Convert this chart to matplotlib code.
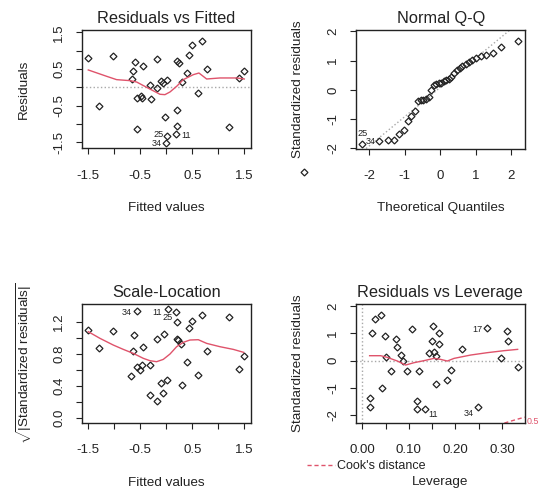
import matplotlib
matplotlib.use('Agg')
import matplotlib.pyplot as plt
from matplotlib.lines import Line2D
import matplotlib.transforms as mtransforms

plt.rcParams['font.family'] = ['Liberation Sans', 'DejaVu Sans']
plt.rcParams['mathtext.fontset'] = 'custom'
plt.rcParams['mathtext.rm'] = 'Liberation Sans'
plt.rcParams['mathtext.it'] = 'Liberation Sans:italic'
plt.rcParams['axes.unicode_minus'] = False

# ---------------- data ----------------
# Residuals vs Fitted
fitted1 = [-1.50, -1.295, -1.02, -0.667, -0.635, -0.609, -0.571, -0.571, -0.487, -0.46,
           -0.44, -0.308, -0.30, -0.186, -0.17, -0.10, -0.064, -0.032, 0.006, 0.019,
           -0.006, 0.186, 0.199, 0.199, 0.212, 0.25, 0.30, 0.404, 0.442, 0.494,
           0.615, 0.68, 0.776, 1.205, 1.39, 1.487]
resid1 = [0.79, -0.51, 0.85, 0.22, 0.445, 0.68, -0.28, -1.136, -0.245, -0.28,
          0.59, 0.063, -0.31, 0.76, -0.018, 0.164, 0.109, -0.80, 0.19, -1.327,
          -1.527, -1.27, -1.055, -0.627, 0.71, 0.655, 0.136, 0.39, 0.873, 1.145,
          -0.164, 1.255, 0.50, -1.09, 0.264, 0.445]
smooth1_x = [-1.5, -1.147, -0.955, -0.699, -0.571, -0.378, -0.122, -0.026, 0.071, 0.199,
             0.327, 0.519, 0.628, 0.776, 1.032, 1.353, 1.5]
smooth1_y = [0.473, 0.30, 0.209, 0.182, 0.145, 0.0, -0.19, -0.2, -0.127, 0.027,
             0.209, 0.345, 0.39, 0.227, 0.255, 0.255, 0.227]
labels1 = ["25", "34", "11"]
labels1_idx = [19, 20, 21]
labels1_off = [(-6.4, 1.4), (-6.4, 0.0), (7.4, -1.2)]

# Normal Q-Q
theo_q = [-2.20, -1.73, -1.48, -1.30, -1.15, -1.02, -0.91, -0.81, -0.72, -0.63,
          -0.55, -0.47, -0.39, -0.32, -0.245, -0.175, -0.105, -0.035, 0.035, 0.105,
          0.175, 0.245, 0.32, 0.39, 0.47, 0.55, 0.63, 0.72, 0.81, 0.91,
          1.02, 1.15, 1.30, 1.48, 1.73, 2.20]
std_q = [-1.84, -1.77, -1.71, -1.71, -1.51, -1.38, -1.07, -0.90, -0.72, -0.38,
         -0.36, -0.35, -0.32, -0.25, 0.0, 0.15, 0.20, 0.23, 0.25, 0.29,
         0.32, 0.36, 0.45, 0.56, 0.68, 0.76, 0.82, 0.89, 0.95, 1.01,
         1.08, 1.15, 1.21, 1.27, 1.46, 1.66]
qq_intercept = 0.08
qq_slope = 1.0
qq_stray_x = [-3.84]
qq_stray_y = [-2.81]
labels2 = ["25", "34"]
labels2_idx = [0, 1]
labels2_off = [(0.0, 7.0), (-6.2, 0.0)]

# Scale-Location
fitted3 = [-1.50, -1.295, -1.02, -0.68, -0.635, -0.615, -0.571, -0.571, -0.506, -0.462,
           -0.449, -0.308, -0.308, -0.18, -0.186, -0.109, -0.064, -0.038, 0.006, 0.032,
           0.186, 0.205, 0.212, 0.22, 0.276, 0.308, 0.404, 0.442, 0.494, 0.615,
           0.68, 0.776, 1.205, 1.39, 1.487]
sqrt_std3 = [1.096, 0.867, 1.083, 0.525, 0.829, 1.033, 1.3375, 0.6375, 0.596, 0.654,
             0.883, 0.654, 0.283, 0.208, 0.9875, 0.429, 0.3125, 1.042, 0.471, 1.358,
             1.32, 1.196, 0.979, 0.97, 0.921, 0.404, 0.696, 1.12, 1.2125, 0.533,
             1.279, 0.829, 1.254, 0.604, 0.775]
smooth3_x = [-1.5, -1.276, -1.019, -0.827, -0.635, -0.442, -0.314, -0.186, -0.058, 0.071,
             0.199, 0.327, 0.455, 0.615, 0.776, 1.032, 1.288, 1.487]
smooth3_y = [1.075, 0.992, 0.908, 0.854, 0.804, 0.742, 0.7125, 0.70, 0.729, 0.796,
             0.8875, 0.942, 0.971, 0.975, 0.929, 0.8875, 0.854, 0.817]
labels3 = ["34", "11", "25"]
labels3_idx = [6, 19, 20]
labels3_off = [(-7.0, -1.2), (-8.0, -2.4), (-5.7, -3.8)]

# Residuals vs Leverage
lev4 = [0.0157, 0.0157, 0.0215, 0.0272, 0.0394, 0.0415, 0.0487, 0.0508, 0.0623, 0.073,
        0.0737, 0.083, 0.088, 0.0966, 0.1074, 0.1167, 0.118, 0.1217, 0.1339, 0.1432,
        0.149, 0.151, 0.1539, 0.1575, 0.159, 0.1646, 0.1653, 0.181, 0.19, 0.2147,
        0.249, 0.268, 0.2985, 0.311, 0.3128, 0.3336]
std4 = [-1.366, -1.695, 1.0, 1.512, 1.67, -1.012, 0.89, 0.146, -0.366, 0.805,
        0.5, 0.22, -0.012, -0.366, 1.159, -1.476, -1.768, -0.366, -1.768, 0.268,
        0.732, 1.28, 0.305, 0.183, -0.866, 1.0, 0.622, -0.707, -0.329, 0.415,
        -1.683, 1.183, 0.11, 1.073, 0.732, -0.232]
smooth4_x = [0.0157, 0.0394, 0.0537, 0.0752, 0.093, 0.111, 0.132, 0.154, 0.168, 0.1825,
             0.197, 0.2326, 0.268, 0.304, 0.3336]
smooth4_y = [0.183, 0.183, 0.122, -0.012, -0.159, -0.073, 0.0, 0.085, 0.049, -0.012,
             0.085, 0.207, 0.293, 0.366, 0.415]
cook_lev = [0.305, 0.32, 0.335, 0.349]
cook_std = [-2.283, -2.205, -2.131, -2.065]
cook_label = "0.5"
cook_label_y = -2.21
labels4 = ["17", "11", "34"]
labels4_idx = [31, 18, 30]
labels4_off = [(-7.2, -1.0), (6.4, -3.6), (-6.9, -4.8)]

# ---------------- style ----------------
TXT = '#222222'
RED = '#DF536B'
GREY = '#A8A8A8'

fig = plt.figure(figsize=(5.5, 4.99), dpi=100)
W, H = 550.0, 499.0


def add_axes(l, t, r, b):
    return fig.add_axes([l / W, (H - b) / H, (r - l) / W, (b - t) / H])


def style(ax, box, title, xlabel, ylabel, xticks, xlabels, yticks, ylabels, xlim, ylim):
    l, t, r, b = box
    wpx, hpx = r - l, b - t
    ax.set_xlim(xlim)
    ax.set_ylim(ylim)
    ax.set_xticks(xticks)
    ax.set_xticklabels(xlabels)
    ax.set_yticks(yticks)
    ax.set_yticklabels(ylabels)
    ax.tick_params(direction='out', length=4.3, width=0.8, color=TXT,
                   labelsize=9.5, labelcolor=TXT)
    ax.tick_params(axis='x', pad=11.5)
    ax.tick_params(axis='y', pad=7.7, labelrotation=90)
    for lbl in ax.get_yticklabels():
        lbl.set_va('center')
    for s in ax.spines.values():
        s.set_linewidth(1.0)
        s.set_color(TXT)
    ax.set_title(title, fontsize=11.8, pad=5, color=TXT)
    ax.set_xlabel(xlabel, fontsize=9.7, color=TXT)
    ax.xaxis.label.set_va('center')
    ax.xaxis.set_label_coords(0.5, -60.0 / hpx)
    ax.set_ylabel(ylabel, fontsize=9.7, color=TXT)
    ax.yaxis.label.set_va('center')
    ax.yaxis.set_label_coords(-58.0 / wpx, 0.5)


MS = 3.5
MEW = 0.9


def points(ax, x, y):
    ax.plot(x, y, ls='none', marker='D', ms=MS, mfc='none', mec=TXT, mew=MEW)


def point_labels(ax, x, y, labels, idx, offs):
    for lab, i, (dx, dy) in zip(labels, idx, offs):
        ax.annotate(lab, xy=(x[i], y[i]), xytext=(dx, dy), textcoords='offset points',
                    ha='center', va='center', fontsize=6.6, color=TXT)


fit_ticks = [-1.5, -1.0, -0.5, 0.0, 0.5, 1.0, 1.5]
fit_labels = ['-1.5', '', '-0.5', '', '0.5', '', '1.5']

# Panel 1
box1 = (82, 30, 251, 148)
ax1 = add_axes(*box1)
ax1.axhline(0, color=GREY, ls=':', lw=1.0)
points(ax1, fitted1, resid1)
ax1.plot(smooth1_x, smooth1_y, color=RED, lw=1.0)
point_labels(ax1, fitted1, resid1, labels1, labels1_idx, labels1_off)
style(ax1, box1, 'Residuals vs Fitted', 'Fitted values', 'Residuals',
      fit_ticks, fit_labels, fit_ticks, ['-1.5', '', '-0.5', '', '0.5', '', '1.5'],
      (-1.621, 1.629), (-1.655, 1.563))

# Panel 2
box2 = (356, 30, 525.5, 148.5)
ax2 = add_axes(*box2)
ax2.axline((0, qq_intercept), slope=qq_slope, color=GREY, ls=':', lw=1.0)
points(ax2, theo_q, std_q)
ax2.plot(qq_stray_x, qq_stray_y, ls='none', marker='D', ms=MS, mfc='none',
         mec=TXT, mew=MEW, clip_on=False)
point_labels(ax2, theo_q, std_q, labels2, labels2_idx, labels2_off)
q_ticks = [-2, -1, 0, 1, 2]
style(ax2, box2, 'Normal Q-Q', 'Theoretical Quantiles', 'Standardized residuals',
      q_ticks, ['-2', '-1', '0', '1', '2'], q_ticks, ['-2', '-1', '0', '1', '2'],
      (-2.375, 2.41), (-2.01, 2.05))

# Panel 3
box3 = (82, 303.5, 251, 422.5)
ax3 = add_axes(*box3)
points(ax3, fitted3, sqrt_std3)
ax3.plot(smooth3_x, smooth3_y, color=RED, lw=1.0)
point_labels(ax3, fitted3, sqrt_std3, labels3, labels3_idx, labels3_off)
s_ticks = [0.0, 0.2, 0.4, 0.6, 0.8, 1.0, 1.2]
style(ax3, box3, 'Scale-Location', 'Fitted values',
      r'$\sqrt{|\mathrm{Standardized\ residuals}|}$',
      fit_ticks, fit_labels, s_ticks, ['0.0', '', '0.4', '', '0.8', '', '1.2'],
      (-1.621, 1.629), (-0.06, 1.4275))

# Panel 4
box4 = (355.7, 303.5, 525, 422.5)
ax4 = add_axes(*box4)
ax4.axhline(0, color=GREY, ls=':', lw=1.0)
ax4.axvline(0, color=GREY, ls=':', lw=1.0)
points(ax4, lev4, std4)
ax4.plot(smooth4_x, smooth4_y, color=RED, lw=1.0)
ax4.plot(cook_lev, cook_std, color=RED, ls='--', lw=1.0, dashes=(3, 2))
point_labels(ax4, lev4, std4, labels4, labels4_idx, labels4_off)
trans4 = mtransforms.blended_transform_factory(ax4.transAxes, ax4.transData)
ax4.text(1.012, cook_label_y, cook_label, transform=trans4, color=RED, fontsize=6.4,
         ha='left', va='center', clip_on=False)
l_ticks = [0.0, 0.05, 0.10, 0.15, 0.20, 0.25, 0.30]
style(ax4, box4, 'Residuals vs Leverage', 'Leverage', 'Standardized residuals',
      l_ticks, ['0.00', '', '0.10', '', '0.20', '', '0.30'],
      q_ticks, ['-2', '-1', '0', '1', '2'],
      (-0.0142, 0.3494), (-2.261, 2.093))
handle = Line2D([], [], color=RED, ls='--', lw=1.0, dashes=(3, 2))
leg = ax4.legend([handle], ["Cook's distance"], loc='center left',
                 bbox_to_anchor=(307.0 / W, (H - 466.0) / H), bbox_transform=fig.transFigure,
                 frameon=False, fontsize=9.0, handlelength=2.2, handletextpad=0.2,
                 borderpad=0.0, borderaxespad=0.0)
for t in leg.get_texts():
    t.set_color(TXT)

fig.savefig('out.png', dpi=100, facecolor='white')
